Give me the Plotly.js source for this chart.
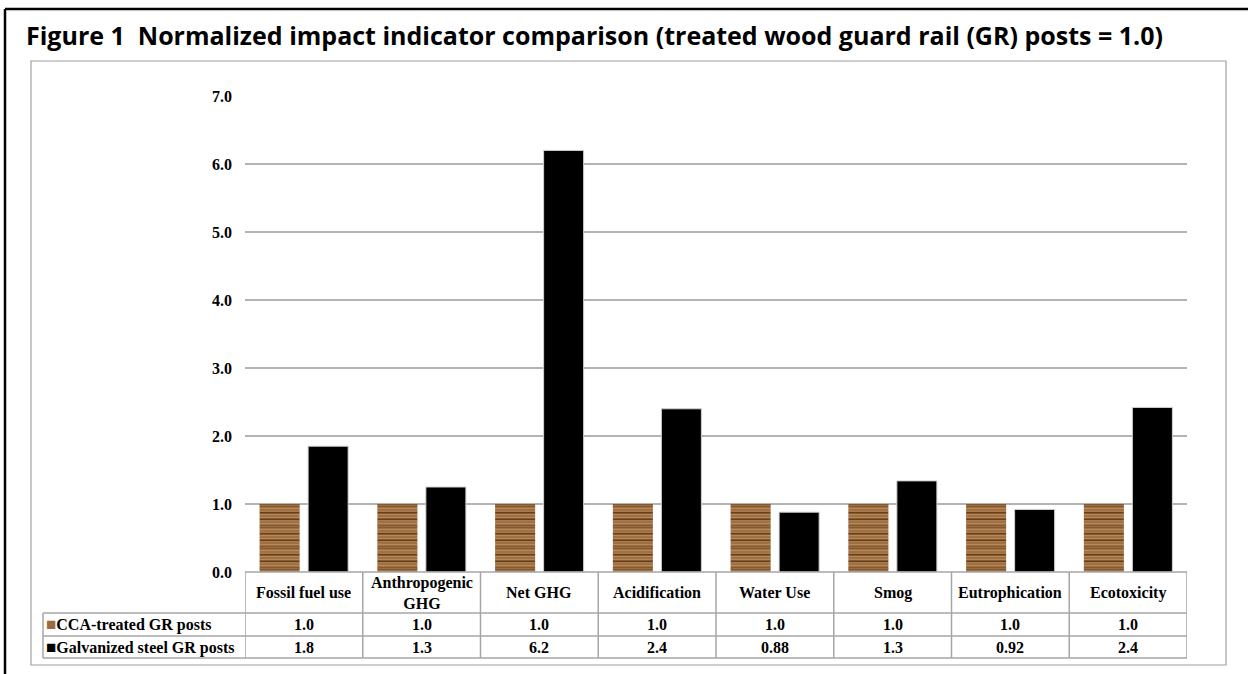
<!DOCTYPE html>
<html>
<head>
<meta charset="utf-8">
<script src="https://cdn.plot.ly/plotly-3.0.1.min.js"></script>
<style>html,body{margin:0;padding:0;background:#fff;}#chart{width:1248px;height:674px;}</style>
</head>
<body>
<div id="chart"></div>
<script>
// ---- data ----
const categories = ["Fossil fuel use", "Anthropogenic GHG", "Net GHG", "Acidification", "Water Use", "Smog", "Eutrophication", "Ecotoxicity"];
const categoryLabels = ["Fossil fuel use", "Anthropogenic<br>GHG", "Net GHG", "Acidification", "Water Use", "Smog", "Eutrophication", "Ecotoxicity"];
const seriesNames = ["CCA-treated GR posts", "Galvanized steel GR posts"];
const woodValues = [1.0, 1.0, 1.0, 1.0, 1.0, 1.0, 1.0, 1.0];
const steelValues = [1.85, 1.25, 6.2, 2.4, 0.88, 1.34, 0.92, 2.42];
const woodLabels = ["1.0", "1.0", "1.0", "1.0", "1.0", "1.0", "1.0", "1.0"];
const steelLabels = ["1.8", "1.3", "6.2", "2.4", "0.88", "1.3", "0.92", "2.4"];
const yTicks = [0, 1, 2, 3, 4, 5, 6, 7];
const titleText = "Figure 1  Normalized impact indicator comparison (treated wood guard rail (GR) posts = 1.0)";

// ---- geometry helpers (pixels -> paper) ----
const W = 1248, H = 674;
const ML = 245, MR = 61, MT = 96, MB = 102;
const PW = W - ML - MR, PH = H - MT - MB;
const px = x => (x - ML) / PW;
const py = y => (H - MB - y) / PH;

const serif = "'Liberation Serif', 'Times New Roman', serif";
const gridCol = "#b3b3b3";
const tableCol = "#a6a6a6";

const traces = [
  {
    type: "bar", name: seriesNames[0], x: categories, y: woodValues, offsetgroup: "wood",
    marker: {
      color: "#a27040",
      pattern: {shape: "-", fgcolor: "#65401f", bgcolor: "#a27040", size: 7, solidity: 0.28}
    },
    hoverinfo: "skip"
  },
  {
    type: "bar", name: seriesNames[0] + " grain", x: categories, y: woodValues, offsetgroup: "wood",
    marker: {
      color: "rgba(0,0,0,0)",
      pattern: {shape: "-", fgcolor: "rgba(200,160,110,0.55)", bgcolor: "rgba(0,0,0,0)", size: 3, solidity: 0.3}
    },
    hoverinfo: "skip"
  },
  {
    type: "bar", name: seriesNames[1], x: categories, y: steelValues, offsetgroup: "steel",
    marker: {color: "#000000", line: {color: "#d0d0d0", width: 1}},
    hoverinfo: "skip"
  }
];

const shapes = [];
const annotations = [];

// outer black frame (top + left)
shapes.push({type: "line", xref: "paper", yref: "paper", x0: px(5), x1: px(1260), y0: py(9), y1: py(9), line: {color: "#000", width: 2.5}});
shapes.push({type: "line", xref: "paper", yref: "paper", x0: px(5), x1: px(5), y0: py(9), y1: py(680), line: {color: "#000", width: 2.5}});
// inner grey chart border
shapes.push({type: "rect", xref: "paper", yref: "paper", x0: px(31), x1: px(1226), y0: py(61), y1: py(665), line: {color: "#a0a0a0", width: 1.2}});

// data table grid
const rowTop = py(572), rowH1 = py(613), rowH2 = py(636), rowBot = py(658);
const legLeft = px(43);
shapes.push({type: "line", xref: "paper", yref: "paper", x0: 0, x1: 1, y0: rowTop, y1: rowTop, line: {color: tableCol, width: 1.5}});
[rowH1, rowH2, rowBot].forEach(y => shapes.push({type: "line", xref: "paper", yref: "paper", x0: legLeft, x1: 1, y0: y, y1: y, line: {color: tableCol, width: 1.5}}));
shapes.push({type: "line", xref: "paper", yref: "paper", x0: legLeft, x1: legLeft, y0: rowH1, y1: rowBot, line: {color: tableCol, width: 1.5}});
for (let i = 0; i <= categories.length; i++) {
  shapes.push({type: "line", xref: "x", yref: "paper", x0: i - 0.5, x1: i - 0.5, y0: rowTop, y1: rowBot, line: {color: tableCol, width: 1.5}});
}

const cellFont = {family: serif, size: 16, color: "#000", weight: "bold"};
categories.forEach((c, i) => {
  annotations.push({xref: "x", yref: "paper", x: i, y: (rowTop + rowH1) / 2, text: categoryLabels[i], showarrow: false, font: cellFont, xanchor: "center", yanchor: "middle"});
  annotations.push({xref: "x", yref: "paper", x: i, y: (rowH1 + rowH2) / 2, text: woodLabels[i], showarrow: false, font: cellFont, xanchor: "center", yanchor: "middle"});
  annotations.push({xref: "x", yref: "paper", x: i, y: (rowH2 + rowBot) / 2, text: steelLabels[i], showarrow: false, font: cellFont, xanchor: "center", yanchor: "middle"});
});
// legend keys in table
annotations.push({xref: "paper", yref: "paper", x: px(44), y: (rowH1 + rowH2) / 2, xanchor: "left", yanchor: "middle", showarrow: false, font: cellFont,
  text: "<span style='color:#9c6b3c;font-size:17px'>■</span>" + seriesNames[0]});
annotations.push({xref: "paper", yref: "paper", x: px(44), y: (rowH2 + rowBot) / 2, xanchor: "left", yanchor: "middle", showarrow: false, font: cellFont,
  text: "<span style='color:#000;font-size:17px'>■</span>" + seriesNames[1]});

const layout = {
  width: W, height: H,
  margin: {l: ML, r: MR, t: MT, b: MB},
  paper_bgcolor: "#fff", plot_bgcolor: "#fff",
  showlegend: false,
  barmode: "group", bargap: 0.176, bargroupgap: 0.175,
  title: {
    text: titleText, xref: "container", yref: "container", x: 26 / W, xanchor: "left", y: 1 - 36 / H, yanchor: "middle",
    font: {family: "'Open Sans', sans-serif", size: 25, color: "#000", weight: "bold"}
  },
  xaxis: {type: "category", range: [-0.5, 7.5], showticklabels: false, showgrid: false, zeroline: false, showline: false, ticks: ""},
  yaxis: {
    range: [0, 7], tickvals: yTicks, tickformat: ".1f", showgrid: true, gridcolor: gridCol, gridwidth: 1.3,
    zeroline: false, showline: false, ticks: "", ticklabelstandoff: 12,
    tickfont: {family: serif, size: 16, color: "#000", weight: "bold"}
  },
  shapes: shapes,
  annotations: annotations
};

Plotly.newPlot("chart", traces, layout, {displayModeBar: false, staticPlot: true});
</script>
</body>
</html>
